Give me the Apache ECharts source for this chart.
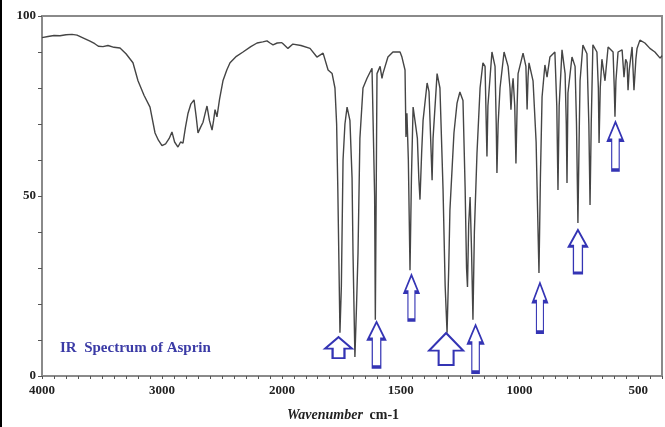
<!DOCTYPE html>
<html>
<head>
<meta charset="utf-8">
<script src="https://cdn.jsdelivr.net/npm/echarts@6/dist/echarts.min.js"></script>
<style>html,body{margin:0;padding:0;background:#fff;}#c{width:665px;height:427px;}</style>
</head>
<body>
<div id="c"></div>
<script>
// Spectrum: wavenumber (cm-1) and % transmittance
const wavenumbers = [
 4000,3950,3900,3850,3800,3750,3708,3650,3600,3560,3530,3492,3450,3400,3350,3300,3242,3200,3150,3100,
 3058,3030,3000,2970,2940,2917,2895,2867,2845,2825,2805,2783,2760,2733,2715,2700,2680,2658,2640,2625,
 2605,2583,2570,2558,2542,2520,2492,2460,2433,2380,2325,2260,2208,2160,2125,2100,2075,2040,2000,
 1975,1954,1920,1882,1853,1827,1806,1789,1777,1770,1765,1760,1756,1750,1743,1735,1726,1714,1705,1701,
 1693,1686,1680,1672,1659,1642,1621,1613,1610,1607,1604,1600,1587,1579,1575,1554,1533,1503,1495,1482,
 1478,1474,1468,1461,1455,1448,1436,1430,1424,1419,1412,1406,1389,1381,1372,1368,1364,1347,1335,1322,
 1313,1305,1298,1293,1276,1263,1251,1238,1229,1223,1219,1214,1208,1202,1196,1190,1179,1166,1154,1145,
 1140,1137,1133,1116,1103,1098,1095,1090,1082,1065,1048,1040,1036,1031,1027,1020,1015,1010,1006,985,
 973,968,964,960,943,930,926,918,912,905,893,884,872,851,843,838,833,821,808,803,
 800,796,779,766,760,754,748,745,733,716,708,703,698,691,674,668,665,660,653,640,
 627,606,601,598,594,585,568,560,553,547,543,538,526,518,510,505,493,472,451,430,
 408,400
];
const transmittance = [
 94,94.3,94.6,94.5,94.8,94.9,94.7,93.8,93,92.3,91.6,91.5,91.8,91.3,91.1,89.5,87,82,78,74.7,
 67.5,65.5,64,64.5,66,67.8,65,63.6,65,64.7,69,73,75.5,76.7,72,67.5,69,70.5,73,75,
 71,68.3,71,74,72,77,82,85,87,88.8,90,91.5,92.5,92.8,93.1,92.5,92,92.5,92.6,
 91,92.2,91.8,91,88.6,89.7,85,84,80,70,52,30,12,25,60,70,74.7,71,55,34,
 5.3,20,34,66,80,82.7,85.5,85,50,15.6,45,84,86,82.7,84,88.6,90,90,88.6,85,
 66.4,73,60,29.4,55,74.7,69,66,55,49,62,71,81.4,79,62,54.4,66,84,80,52,
 25,12,30,46,67.5,75.8,78.9,76.5,52.5,30,24.7,42,49.7,35,15.6,40,61.9,80,87,86,
 70,61,75,90,86,70,56.4,70,80,90,86,80,74,80,82.7,75,59,75,84,89.7,
 86,74,83,87,82,65,52.5,28.6,55,77.5,86.4,83,88.6,90,75,51.7,75,90.6,84,70,
 53.6,78.6,88.6,86,70,42.5,70,82,91.9,89.5,70,47.5,70,92,90,80,64.7,80,88,82,
 91.4,90,80,72,82,90,90.6,83,88,87,79.4,85,91.4,79.4,88,91,93.3,92.5,91,90,
 88.3,89
];
// Arrow annotations (wavenumber, transmittance at arrow centre)
const arrowWavenumbers = [1762,1602,1455,1309,1185,914,754,596];
const arrowTransmittance = [7.9,8.75,21.8,7.5,7.6,19,34.6,63.9];
const arrowWide = [true,false,false,true,false,false,false,false];
const arrowSizes = [[27,21],[17,45],[14,45],[34,32],[15,47],[14,49],[18,43],[15,48]];
const yTickLabels = [0,50,100];
const xTickLabels = [4000,3000,2000,1500,1000,500];

const highPts = [], lowPts = [];
for (let i = 0; i < wavenumbers.length; i++) {
  if (wavenumbers[i] >= 2000) highPts.push([wavenumbers[i], transmittance[i]]);
  if (wavenumbers[i] <= 2000) lowPts.push([wavenumbers[i], transmittance[i]]);
}
const narrowPath = 'path://M50,0 L100,38 L75,38 L75,100 L25,100 L25,38 L0,38 Z';
const widePath = 'path://M50,0 L100,55 L72,55 L72,100 L28,100 L28,55 L0,55 Z';
const arrowData = arrowWavenumbers.map((w, i) => ({
  coord: [w, arrowTransmittance[i]],
  symbol: arrowWide[i] ? widePath : narrowPath,
  symbolSize: arrowSizes[i]
}));

const frameColor = '#8a8a8a';
const labelFont = {fontFamily: 'Liberation Serif', fontWeight: 'bold', fontSize: 13, color: '#222'};
const xFmt = v => xTickLabels.indexOf(v) >= 0 ? String(v) : '';

const chart = echarts.init(document.getElementById('c'), null, {renderer: 'canvas'});
chart.setOption({
  backgroundColor: '#fff',
  animation: false,
  grid: [
    {left: 42, top: 16, width: 240, height: 360},
    {left: 282, top: 16, width: 380, height: 360}
  ],
  xAxis: [
    {gridIndex: 0, type: 'value', inverse: true, min: 2000, max: 4000, interval: 100,
     axisLine: {lineStyle: {color: frameColor, width: 2}},
     axisTick: {length: 3, lineStyle: {color: '#555'}},
     axisLabel: Object.assign({formatter: v => (v === 2000 ? '' : xFmt(v)), margin: 8, showMinLabel: true, showMaxLabel: true}, labelFont),
     splitLine: {show: false}},
    {gridIndex: 1, type: 'value', inverse: true, min: 400, max: 2000, interval: 50,
     axisLine: {lineStyle: {color: frameColor, width: 2}},
     axisTick: {length: 3, lineStyle: {color: '#555'}},
     axisLabel: Object.assign({formatter: xFmt, margin: 8, showMinLabel: true, showMaxLabel: true}, labelFont),
     splitLine: {show: false}}
  ],
  yAxis: [
    {gridIndex: 0, type: 'value', min: 0, max: 100, interval: 10,
     axisLine: {show: true, lineStyle: {color: frameColor, width: 2}},
     axisTick: {show: true, length: 4, lineStyle: {color: '#555'}},
     axisLabel: Object.assign({formatter: v => yTickLabels.indexOf(v) >= 0 ? String(v) : '', margin: 6}, labelFont),
     splitLine: {show: false}},
    {gridIndex: 1, type: 'value', min: 0, max: 100, show: false, splitLine: {show: false}}
  ],
  series: [
    {type: 'line', xAxisIndex: 0, yAxisIndex: 0, data: highPts, showSymbol: false, silent: true,
     lineStyle: {color: '#454545', width: 1.4}},
    {type: 'line', xAxisIndex: 1, yAxisIndex: 1, data: lowPts, showSymbol: false, silent: true,
     lineStyle: {color: '#454545', width: 1.4},
     markPoint: {
       silent: true,
       symbolKeepAspect: false,
       label: {show: false},
       itemStyle: {color: 'rgba(255,255,255,0)', borderColor: '#3434b4', borderWidth: 2},
       data: arrowData
     }}
  ],
  graphic: [
    {type: 'rect', shape: {x: 42, y: 16, width: 620, height: 360}, style: {fill: 'none', stroke: frameColor, lineWidth: 2}, silent: true, z: 0},
    {type: 'rect', shape: {x: 0, y: 0, width: 2, height: 427}, style: {fill: '#000'}, silent: true},
    {type: 'text', x: 60, y: 348, style: {text: 'IR  Spectrum of Asprin', fill: '#3b3ba6', font: 'bold 15px "Liberation Serif"', textVerticalAlign: 'middle'}},
    {type: 'text', x: 343, y: 415, style: {
      text: '{a|Wavenumber}  {b|cm-1}', textAlign: 'center', textVerticalAlign: 'middle',
      rich: {a: {fontFamily: 'Liberation Serif', fontStyle: 'italic', fontWeight: 'bold', fontSize: 14, fill: '#222'},
             b: {fontFamily: 'Liberation Serif', fontWeight: 'bold', fontSize: 14, fill: '#222'}}}}
  ]
});
</script>
</body>
</html>
